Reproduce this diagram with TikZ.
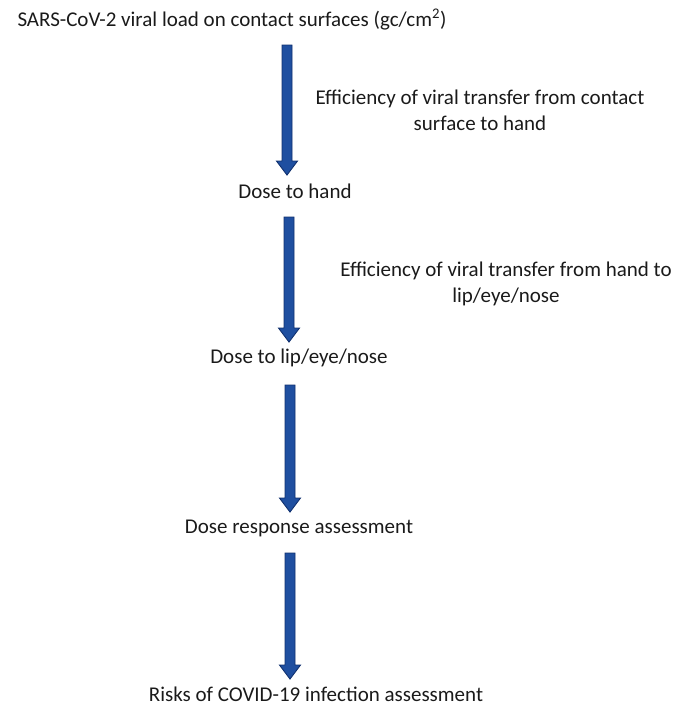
\documentclass[tikz,border=0pt]{standalone}
\usepackage{fontspec}
\setmainfont{Carlito}
\usetikzlibrary{calc}
\definecolor{arrowfill}{HTML}{1F4FA0}
\definecolor{arrowedge}{HTML}{10306E}
\definecolor{txt}{HTML}{1A1A1A}
\tikzset{
  lbl/.style={inner sep=0pt, font=\fontsize{21}{26}\selectfont, text=txt, anchor=base},
  side/.style={lbl, align=center},
  blockarrow/.style={fill=arrowfill, draw=arrowedge, line width=0.9pt, line join=miter}
}
\newcommand{\blockarrow}[2]{%
  \draw[blockarrow] ($(#1)+(-5,0)$) -- ($(#2)+(-5,-14)$) -- ($(#2)+(-10.5,-14)$) -- (#2)
    -- ($(#2)+(10.5,-14)$) -- ($(#2)+(5,-14)$) -- ($(#1)+(5,0)$) -- cycle;}
\begin{document}
\begin{tikzpicture}[x=1pt,y=-1pt]
\useasboundingbox (0,0) rectangle (688,705);
\node[lbl] (n0) at (232,26) {SARS-CoV-2 viral load on contact surfaces (gc/cm\textsuperscript{2})};
\node[lbl] (n1) at (295,198) {Dose to hand};
\node[lbl] (n2) at (299,363) {Dose to lip/eye/nose};
\node[lbl] (n3) at (299,533) {Dose response assessment};
\node[lbl] (n4) at (316,701) {Risks of COVID-19 infection assessment};
% base anchor of a multi-line node is the baseline of its last line
\node[side] (e1) at (480,130) {Efficiency of viral transfer from contact\\surface to hand};
\node[side] (e2) at (506,302) {Efficiency of viral transfer from hand to\\lip/eye/nose};
\coordinate (a1s) at (287,45);  \coordinate (a1e) at (287,175);
\coordinate (a2s) at (289,217); \coordinate (a2e) at (289,342);
\coordinate (a3s) at (290,385); \coordinate (a3e) at (290,512);
\coordinate (a4s) at (290,553); \coordinate (a4e) at (290,679);
\blockarrow{a1s}{a1e}
\blockarrow{a2s}{a2e}
\blockarrow{a3s}{a3e}
\blockarrow{a4s}{a4e}
\end{tikzpicture}
\end{document}
